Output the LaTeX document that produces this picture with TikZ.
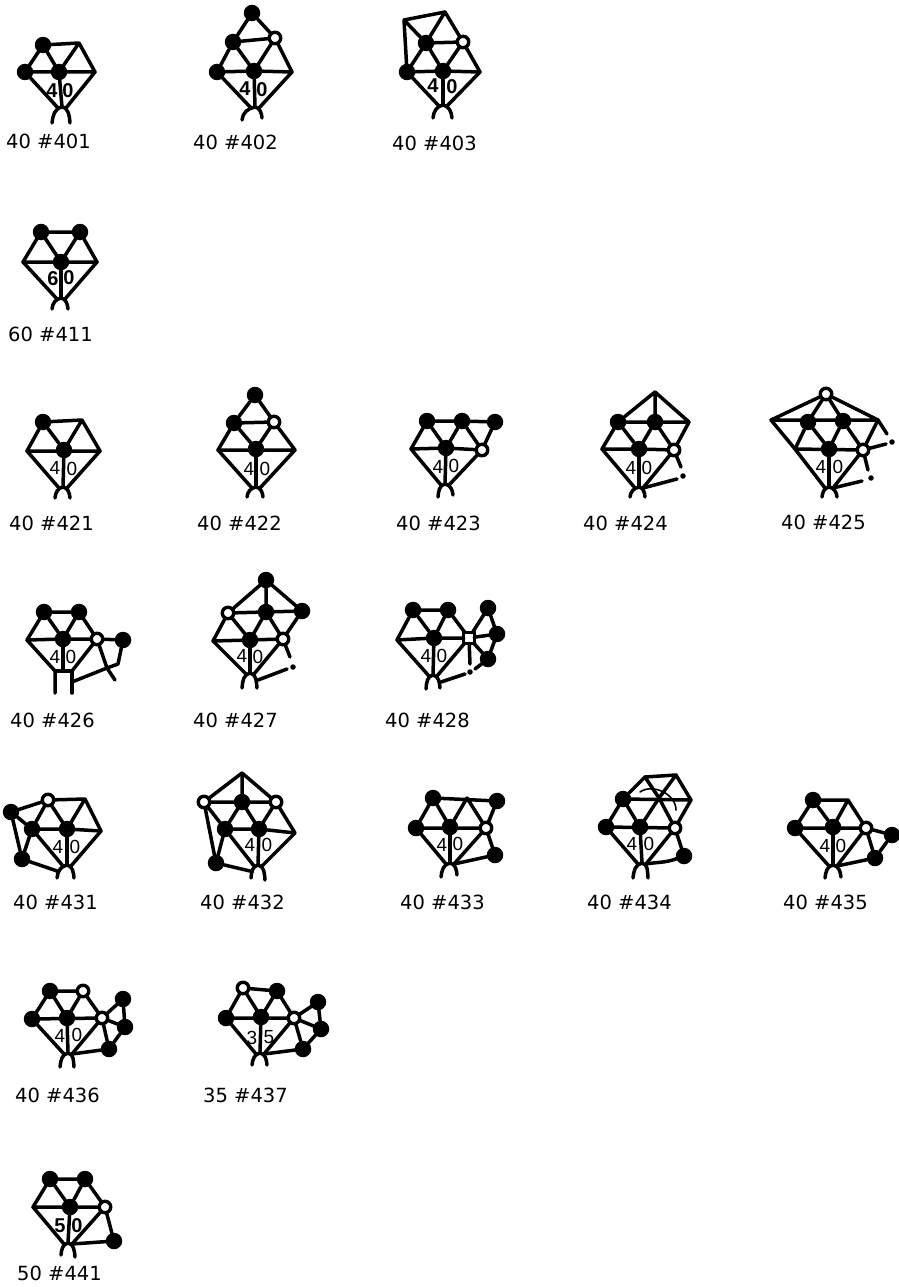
\documentclass[tikz,border=0pt]{standalone}
\usepackage{fontspec}
\setmainfont{DejaVu Sans}
\newfontfamily\digitfont{Liberation Sans}
\tikzset{
  blob/.style={circle,fill=black,inner sep=0pt,outer sep=0pt,minimum size=16.5pt},
  ring/.style={circle,draw=black,line width=3.4pt,fill=white,inner sep=0pt,outer sep=0pt,minimum size=11.5pt},
  sqring/.style={rectangle,draw=black,line width=3.4pt,fill=white,inner sep=0pt,outer sep=0pt,minimum size=10.5pt},
  speck/.style={circle,fill=black,inner sep=0pt,outer sep=0pt,minimum size=5.5pt},
  link/.style={line width=3.5pt,line cap=round,line join=round},
  thinlink/.style={line width=1.6pt,line cap=round},
  tag/.style={anchor=west,inner sep=0pt,font=\fontsize{19.5}{19.5}\selectfont},
  digit/.style={inner sep=0pt,font=\fontsize{19}{19}\digitfont},
  bolddigit/.style={inner sep=0pt,font=\fontsize{20}{20}\digitfont\bfseries}}
% junction under the centre, its two legs and the two shoulders beside it
\newcommand{\legs}[4]{
  \coordinate (j#1) at (#2);
  \coordinate (ll#1) at (#3);
  \coordinate (lr#1) at (#4);
  \coordinate (bl#1) at ([shift={(-4,1)}]j#1);
  \coordinate (br#1) at ([shift={(4,1)}]j#1);
  \draw[link] (ll#1) to[out=85,in=190] (j#1) to[out=-10,in=95] (lr#1);}
\begin{document}
\begin{tikzpicture}[x=1pt,y=-1pt]
  \useasboundingbox (0,0) rectangle (899,1287);
  % first row
  \node[blob] (ul401) at (43,45) {};
  \node[blob] (l401) at (25,72) {};
  \node[blob] (c401) at (59,72) {};
  \coordinate (ur401) at (79,43);
  \coordinate (r401) at (95,72);
  \legs{401}{62,107}{52,123}{70,123}
  \draw[link] (ul401)--(ur401)--(r401)--(c401)--(l401)--(ul401)--(c401)--(ur401);
  \draw[link] (l401)--(bl401);
  \draw[link] (r401)--(br401);
  \draw[link] (c401)--(j401);
  \node[bolddigit] (da401) at (52,91) {4};
  \node[bolddigit] (db401) at (68,91) {0};
  \node[tag] (t401) at (6,141) {40 \#401};

  \node[blob] (top402) at (252,13) {};
  \node[blob] (ul402) at (233,42) {};
  \node[ring] (h402) at (275,38) {};
  \node[blob] (l402) at (217,72) {};
  \node[blob] (c402) at (254,71) {};
  \coordinate (r402) at (292,72);
  \legs{402}{255,107}{242,120}{262,118}
  \draw[link] (top402)--(ul402)--(h402)--(top402);
  \draw[link] (ul402)--(l402)--(c402)--(ul402);
  \draw[link] (h402)--(c402)--(r402)--(h402);
  \draw[link] (l402)--(bl402);
  \draw[link] (r402)--(br402);
  \draw[link] (c402)--(j402);
  \node[bolddigit] (da402) at (245,89) {4};
  \node[bolddigit] (db402) at (262,90) {0};
  \node[tag] (t402) at (193,142) {40 \#402};

  \coordinate (tl403) at (404,20);
  \coordinate (top403) at (445,12);
  \node[blob] (ul403) at (426,43) {};
  \node[ring] (h403) at (463,42) {};
  \node[blob] (l403) at (407,72) {};
  \node[blob] (c403) at (443,71) {};
  \coordinate (r403) at (480,72);
  \legs{403}{443,105}{433,118}{452,118}
  \draw[link] (tl403)--(top403)--(ul403)--(tl403)--(l403);
  \draw[link] (top403)--(h403)--(ul403)--(l403)--(c403)--(ul403);
  \draw[link] (h403)--(c403)--(r403)--(h403);
  \draw[link] (l403)--(bl403);
  \draw[link] (r403)--(br403);
  \draw[link] (c403)--(j403);
  \node[bolddigit] (da403) at (433,86) {4};
  \node[bolddigit] (db403) at (452,87) {0};
  \node[tag] (t403) at (392,143) {40 \#403};

  % second row
  \node[blob] (ul411) at (41,232) {};
  \node[blob] (ur411) at (80,232) {};
  \node[blob] (c411) at (61,262) {};
  \coordinate (l411) at (23,262);
  \coordinate (r411) at (97,262);
  \legs{411}{61,298}{52,309}{68,309}
  \draw[link] (ul411)--(ur411)--(r411)--(l411)--(ul411)--(c411)--(ur411);
  \draw[link] (l411)--(bl411);
  \draw[link] (r411)--(br411);
  \draw[link] (c411)--(j411);
  \node[bolddigit] (da411) at (53,279) {6};
  \node[bolddigit] (db411) at (69,278) {0};
  \node[tag] (t411) at (8,334) {60 \#411};

  % third row
  \node[blob] (ul421) at (43,422) {};
  \coordinate (ur421) at (82,420);
  \node[blob] (c421) at (64,450) {};
  \coordinate (l421) at (27,451);
  \coordinate (r421) at (100,451);
  \legs{421}{63,487}{55,498}{70,498}
  \draw[link] (ul421)--(ur421)--(r421)--(l421)--(ul421)--(c421)--(ur421);
  \draw[link] (l421)--(bl421);
  \draw[link] (r421)--(br421);
  \draw[link] (c421)--(j421);
  \node[digit] (da421) at (55,468) {4};
  \node[digit] (db421) at (72,469) {0};
  \node[tag] (t421) at (9,523) {40 \#421};

  \node[blob] (top422) at (255,395) {};
  \node[blob] (ul422) at (234,423) {};
  \node[ring] (h422) at (274,422) {};
  \coordinate (l422) at (218,450);
  \node[blob] (c422) at (256,449) {};
  \coordinate (r422) at (295,450);
  \legs{422}{256,487}{247,497}{263,497}
  \draw[link] (top422)--(ul422)--(h422)--(top422);
  \draw[link] (ul422)--(l422)--(r422)--(h422)--(c422)--(ul422);
  \draw[link] (l422)--(bl422);
  \draw[link] (r422)--(br422);
  \draw[link] (c422)--(j422);
  \node[digit] (da422) at (249,469) {4};
  \node[digit] (db422) at (265,469) {0};
  \node[tag] (t422) at (197,523) {40 \#422};

  \node[blob] (ul423) at (427,421) {};
  \node[blob] (um423) at (462,421) {};
  \node[blob] (ur423) at (495,422) {};
  \node[ring] (h423) at (482,450) {};
  \coordinate (l423) at (411,449);
  \node[blob] (c423) at (446,448) {};
  \legs{423}{445,484}{438,497}{453,495}
  \draw[link] (ul423)--(um423)--(ur423)--(h423)--(c423)--(l423)--(ul423)--(c423)--(um423)--(h423);
  \draw[link] (l423)--(bl423);
  \draw[link] (h423)--(br423);
  \draw[link] (c423)--(j423);
  \node[digit] (da423) at (438,467) {4};
  \node[digit] (db423) at (454,466) {0};
  \node[tag] (t423) at (396,523) {40 \#423};

  \coordinate (top424) at (655,392);
  \node[blob] (ul424) at (618,422) {};
  \node[blob] (um424) at (655,422) {};
  \coordinate (ur424) at (689,422);
  \coordinate (l424) at (602,449);
  \node[blob] (c424) at (639,449) {};
  \node[ring] (h424) at (674,450) {};
  \legs{424}{639,487}{630,497}{645,497}
  \node[speck] (sa424) at (683,476) {};
  \coordinate (ea424) at (681,467);
  \coordinate (eb424) at (677,479);
  \draw[link] (top424)--(ul424)--(um424)--(ur424)--(top424)--(um424);
  \draw[link] (ul424)--(l424)--(c424)--(h424)--(ur424);
  \draw[link] (ul424)--(c424)--(um424)--(h424);
  \draw[link] (l424)--(bl424);
  \draw[link] (h424)--(br424);
  \draw[link] (c424)--(j424);
  \draw[link] (h424)--(ea424);
  \draw[link] (br424)--(eb424);
  \node[digit] (da424) at (631,468) {4};
  \node[digit] (db424) at (647,468) {0};
  \node[tag] (t424) at (583,523) {40 \#424};

  \node[ring] (top425) at (826,394) {};
  \coordinate (fl425) at (771,420);
  \node[blob] (ul425) at (808,422) {};
  \node[blob] (um425) at (843,421) {};
  \coordinate (ur425) at (878,420);
  \node[ring] (h425) at (863,450) {};
  \node[blob] (c425) at (829,449) {};
  \coordinate (l425) at (795,449);
  \legs{425}{829,487}{822,497}{837,497}
  \node[speck] (sa425) at (892,442) {};
  \node[speck] (sb425) at (871,478) {};
  \coordinate (ea425) at (887,434);
  \coordinate (eb425) at (886,444);
  \coordinate (ec425) at (868,470);
  \coordinate (ed425) at (862,481);
  \draw[link] (fl425)--(top425)--(ur425)--(fl425)--(l425)--(bl425);
  \draw[link] (top425)--(ul425)--(l425)--(h425)--(um425)--(top425);
  \draw[link] (ul425)--(c425)--(um425);
  \draw[link] (ur425)--(h425)--(br425);
  \draw[link] (c425)--(j425);
  \draw[link] (ur425)--(ea425);
  \draw[link] (h425)--(eb425);
  \draw[link] (h425)--(ec425);
  \draw[link] (br425)--(ed425);
  \node[digit] (da425) at (821,467) {4};
  \node[digit] (db425) at (838,467) {0};
  \node[tag] (t425) at (781,522) {40 \#425};

  % fourth row
  \node[blob] (ul426) at (44,612) {};
  \node[blob] (ur426) at (79,612) {};
  \coordinate (l426) at (27,640);
  \node[blob] (c426) at (63,639) {};
  \node[ring] (h426) at (97,639) {};
  \node[blob] (fr426) at (123,640) {};
  \coordinate (y426) at (107,668);
  \coordinate (ea426) at (118,664);
  \coordinate (eb426) at (115,680);
  \coordinate (bl426) at (55,671);
  \coordinate (j426) at (63,671);
  \coordinate (br426) at (72,671);
  \coordinate (m426) at (72,682);
  \coordinate (ll426) at (55,693);
  \coordinate (lr426) at (72,693);
  \draw[link] (ul426)--(ur426)--(h426)--(c426)--(l426)--(ul426)--(c426)--(ur426);
  \draw[link] (h426)--(fr426)--(ea426)--(y426);
  \draw[link] (h426)--(y426)--(eb426);
  \draw[link] (y426)--(m426);
  \draw[link] (l426)--(bl426)--(ll426);
  \draw[link] (bl426)--(br426)--(lr426);
  \draw[link] (h426)--(br426);
  \draw[link] (c426)--(j426);
  \node[digit] (da426) at (55,657) {4};
  \node[digit] (db426) at (71,657) {0};
  \node[tag] (t426) at (10,720) {40 \#426};

  \node[blob] (top427) at (266,580) {};
  \node[ring] (hl427) at (228,613) {};
  \node[blob] (m427) at (266,612) {};
  \node[blob] (r427) at (302,611) {};
  \coordinate (l427) at (213,641);
  \node[blob] (c427) at (250,640) {};
  \node[ring] (h427) at (283,639) {};
  \legs{427}{250,673}{242,688}{257,688}
  \node[speck] (sa427) at (293,667) {};
  \coordinate (ea427) at (290,657);
  \coordinate (eb427) at (287,669);
  \coordinate (ec427) at (258,680);
  \draw[link] (hl427)--(top427)--(r427)--(hl427)--(l427)--(c427)--(h427)--(r427);
  \draw[link] (top427)--(m427)--(c427)--(hl427);
  \draw[link] (m427)--(h427);
  \draw[link] (l427)--(bl427);
  \draw[link] (h427)--(br427);
  \draw[link] (c427)--(j427);
  \draw[link] (h427)--(ea427);
  \draw[link] (ec427)--(eb427);
  \node[digit] (da427) at (242,656) {4};
  \node[digit] (db427) at (258,657) {0};
  \node[tag] (t427) at (193,720) {40 \#427};

  \node[blob] (ul428) at (413,610) {};
  \node[blob] (um428) at (448,610) {};
  \coordinate (l428) at (397,640);
  \node[blob] (c428) at (434,638) {};
  \node[sqring] (sq428) at (469,638) {};
  \node[blob] (fa428) at (488,608) {};
  \node[blob] (fb428) at (497,634) {};
  \node[blob] (fc428) at (488,659) {};
  \node[speck] (sa428) at (470,672) {};
  \legs{428}{433,675}{426,689}{440,688}
  \coordinate (ea428) at (470,664);
  \coordinate (eb428) at (475,669);
  \coordinate (ec428) at (465,674);
  \coordinate (ed428) at (441,682);
  \draw[link] (ul428)--(um428)--(sq428)--(c428)--(l428)--(ul428)--(c428)--(um428);
  \draw[link] (sq428)--(fa428)--(fb428)--(fc428)--(sq428)--(fb428);
  \draw[link] (l428)--(bl428);
  \draw[link] (sq428)--(br428);
  \draw[link] (c428)--(j428);
  \draw[link] (sq428)--(ea428);
  \draw[link] (fc428)--(eb428);
  \draw[link] (ed428)--(ec428);
  \node[digit] (da428) at (426,656) {4};
  \node[digit] (db428) at (442,656) {0};
  \node[tag] (t428) at (385,720) {40 \#428};

  % fifth row
  \node[blob] (fl431) at (11,812) {};
  \node[ring] (h431) at (48,800) {};
  \coordinate (ur431) at (85,799);
  \node[blob] (m431) at (32,829) {};
  \node[blob] (c431) at (67,829) {};
  \coordinate (r431) at (101,831);
  \node[blob] (b431) at (22,859) {};
  \legs{431}{67,865}{57,878}{74,878}
  \coordinate (ba431) at (57,871);
  \draw[link] (fl431)--(h431)--(ur431)--(r431)--(c431)--(m431)--(fl431)--(b431)--(m431)--(h431)--(c431)--(ur431);
  \draw[link] (m431)--(bl431);
  \draw[link] (b431)--(ba431);
  \draw[link] (r431)--(br431);
  \draw[link] (c431)--(j431);
  \node[digit] (da431) at (58,847) {4};
  \node[digit] (db431) at (75,847) {0};
  \node[tag] (t431) at (13,902) {40 \#431};

  \coordinate (top432) at (242,773);
  \node[ring] (hl432) at (204,802) {};
  \node[blob] (m432) at (242,802) {};
  \node[ring] (hr432) at (276,802) {};
  \node[blob] (ml432) at (225,829) {};
  \node[blob] (c432) at (259,829) {};
  \coordinate (r432) at (295,833);
  \node[blob] (b432) at (216,863) {};
  \legs{432}{258,865}{251,878}{265,880}
  \coordinate (ba432) at (250,871);
  \draw[link] (hl432)--(top432)--(hr432)--(m432)--(hl432)--(ml432)--(b432)--(hl432);
  \draw[link] (top432)--(m432)--(ml432)--(c432)--(r432)--(hr432)--(c432)--(m432);
  \draw[link] (ml432)--(bl432);
  \draw[link] (b432)--(ba432);
  \draw[link] (r432)--(br432);
  \draw[link] (c432)--(j432);
  \node[digit] (da432) at (250,845) {4};
  \node[digit] (db432) at (267,845) {0};
  \node[tag] (t432) at (200,902) {40 \#432};

  \node[blob] (ul433) at (433,798) {};
  \coordinate (um433) at (467,798);
  \node[blob] (ur433) at (497,801) {};
  \node[blob] (l433) at (416,828) {};
  \node[blob] (c433) at (450,827) {};
  \node[ring] (h433) at (486,828) {};
  \node[blob] (b433) at (495,855) {};
  \legs{433}{450,863}{441,877}{457,875}
  \draw[link] (ul433)--(ur433)--(h433)--(um433)--(c433)--(ul433)--(l433)--(h433)--(b433)--(br433);
  \draw[link] (l433)--(bl433);
  \draw[link] (h433)--(br433);
  \draw[link] (c433)--(j433);
  \node[digit] (da433) at (442,845) {4};
  \node[digit] (db433) at (458,844) {0};
  \node[tag] (t433) at (400,902) {40 \#433};

  \coordinate (tl434) at (645,777);
  \coordinate (tr434) at (676,775);
  \node[blob] (ul434) at (623,799) {};
  \coordinate (m434) at (659,798);
  \coordinate (r434) at (691,800);
  \node[blob] (l434) at (606,827) {};
  \node[blob] (c434) at (640,827) {};
  \node[ring] (h434) at (675,828) {};
  \node[blob] (b434) at (684,856) {};
  \legs{434}{642,863}{633,878}{648,878}
  \coordinate (sa434) at (640,792);
  \coordinate (sb434) at (676,810);
  \draw[link] (ul434)--(tl434)--(tr434)--(r434)--(ul434)--(l434)--(h434)--(r434);
  \draw[link] (tl434)--(m434)--(tr434);
  \draw[link] (ul434)--(c434)--(m434)--(h434)--(b434);
  \draw[link] (b434) to[out=200,in=10] (br434);
  \draw[link] (l434)--(bl434);
  \draw[link] (h434)--(br434);
  \draw[link] (c434)--(j434);
  \draw[thinlink] (sa434) to[out=35,in=90] (sb434);
  \node[digit] (da434) at (632,844) {4};
  \node[digit] (db434) at (649,844) {0};
  \node[tag] (t434) at (587,902) {40 \#434};

  \node[blob] (ul435) at (813,800) {};
  \coordinate (um435) at (848,800);
  \node[blob] (l435) at (795,828) {};
  \node[blob] (c435) at (833,827) {};
  \node[ring] (h435) at (866,828) {};
  \node[blob] (fr435) at (892,835) {};
  \node[blob] (b435) at (875,858) {};
  \legs{435}{833,865}{825,878}{841,877}
  \draw[link] (ul435)--(um435)--(h435)--(l435)--(ul435)--(c435)--(um435);
  \draw[link] (h435)--(fr435)--(b435)--(h435);
  \draw[link] (b435)--(br435);
  \draw[link] (l435)--(bl435);
  \draw[link] (h435)--(br435);
  \draw[link] (c435)--(j435);
  \node[digit] (da435) at (825,846) {4};
  \node[digit] (db435) at (841,846) {0};
  \node[tag] (t435) at (783,902) {40 \#435};

  % sixth row
  \node[blob] (ul436) at (50,991) {};
  \node[ring] (h436) at (83,991) {};
  \node[blob] (l436) at (32,1019) {};
  \node[blob] (c436) at (67,1018) {};
  \node[ring] (m436) at (102,1018) {};
  \node[blob] (fa436) at (123,999) {};
  \node[blob] (fb436) at (125,1027) {};
  \node[blob] (b436) at (109,1049) {};
  \legs{436}{68,1053}{60,1067}{74,1067}
  \draw[link] (ul436)--(h436)--(m436)--(l436)--(ul436)--(c436)--(h436);
  \draw[link] (m436)--(fa436)--(fb436)--(b436)--(m436)--(fb436);
  \draw[link] (b436)--(br436);
  \draw[link] (l436)--(bl436);
  \draw[link] (m436)--(br436);
  \draw[link] (c436)--(j436);
  \node[digit] (da436) at (60,1036) {4};
  \node[digit] (db436) at (77,1035) {0};
  \node[tag] (t436) at (15,1095) {40 \#436};

  \node[ring] (ul437) at (243,988) {};
  \node[blob] (h437) at (277,991) {};
  \node[blob] (l437) at (226,1018) {};
  \node[blob] (c437) at (261,1017) {};
  \node[ring] (m437) at (294,1018) {};
  \node[blob] (fa437) at (318,1002) {};
  \node[blob] (fb437) at (321,1029) {};
  \node[blob] (b437) at (303,1049) {};
  \legs{437}{260,1053}{252,1065}{267,1065}
  \draw[link] (ul437)--(h437)--(m437)--(l437)--(ul437)--(c437)--(h437);
  \draw[link] (m437)--(fa437)--(fb437)--(b437)--(m437)--(fb437);
  \draw[link] (b437)--(br437);
  \draw[link] (l437)--(bl437);
  \draw[link] (m437)--(br437);
  \draw[link] (c437)--(j437);
  \node[digit] (da437) at (252,1038) {3};
  \node[digit] (db437) at (269,1037) {5};
  \node[tag] (t437) at (203,1095) {35 \#437};

  % last row
  \node[blob] (ul441) at (50,1179) {};
  \node[blob] (ur441) at (85,1179) {};
  \coordinate (l441) at (33,1207);
  \node[blob] (c441) at (70,1207) {};
  \node[ring] (h441) at (105,1207) {};
  \node[blob] (b441) at (114,1241) {};
  \legs{441}{68,1243}{61,1255}{75,1257}
  \draw[link] (ul441)--(ur441)--(h441)--(l441)--(ul441)--(c441)--(ur441);
  \draw[link] (h441)--(b441)--(br441);
  \draw[link] (l441)--(bl441);
  \draw[link] (h441)--(br441);
  \draw[link] (c441)--(j441);
  \node[bolddigit] (da441) at (60,1226) {5};
  \node[bolddigit] (db441) at (77,1226) {0};
  \node[tag] (t441) at (17,1273) {50 \#441};
\end{tikzpicture}
\end{document}
